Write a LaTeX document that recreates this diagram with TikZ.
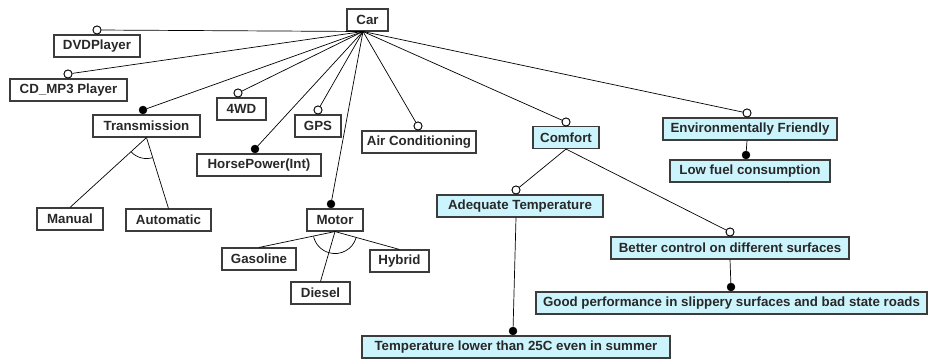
\documentclass[tikz,border=0pt]{standalone}
\usepackage{fontspec}
\setmainfont{Liberation Sans}
\definecolor{boxline}{RGB}{60,60,60}
\definecolor{labeltext}{RGB}{40,40,40}
\definecolor{goalfill}{RGB}{204,244,252}
\begin{document}
\begin{tikzpicture}[x=1pt,y=-1pt,
  feat/.style={draw=boxline, line width=1.1pt, fill=white, text=labeltext,
    font=\bfseries\fontsize{13.3}{15}\selectfont, inner sep=0pt, minimum height=22pt},
  goal/.style={feat, fill=goalfill},
  opt/.style={circle, draw=black, fill=white, line width=0.8pt, inner sep=0pt, minimum size=8pt},
  mand/.style={circle, draw=black, fill=black, inner sep=0pt, minimum size=8pt},
  link/.style={draw=black, line width=0.7pt},
]
\useasboundingbox (0,0) rectangle (928,361);

% ---------- features ----------
\node[feat, minimum width=41pt]  (car)    at (367.5,20)  {Car};
\node[feat, minimum width=86pt]  (dvd)    at (97,46)     {DVDPlayer};
\node[feat, minimum width=117pt] (cd)     at (68.5,90)   {CD\_MP3 Player};
\node[feat, minimum width=107pt] (trans)  at (146.5,126) {Transmission};
\node[feat, minimum width=49pt]  (wd)     at (241.5,109) {4WD};
\node[feat, minimum width=46pt]  (gps)    at (318,126)   {GPS};
\node[feat, minimum width=124pt] (hp)     at (259,165)   {HorsePower(Int)};
\node[feat, minimum width=114pt] (ac)     at (419,142)   {Air Conditioning};
\node[feat, minimum width=66pt]  (manual) at (70,219)    {Manual};
\node[feat, minimum width=85pt]  (auto)   at (168.5,220) {Automatic};
\node[feat, minimum width=56pt]  (motor)  at (335,220)   {Motor};
\node[feat, minimum width=74pt]  (gas)    at (259,259)   {Gasoline};
\node[feat, minimum width=59pt]  (hybrid) at (399.5,261) {Hybrid};
\node[feat, minimum width=59pt]  (diesel) at (320.5,293) {Diesel};

% ---------- goals ----------
\node[goal, minimum width=66pt]  (comfort) at (566,137.5) {Comfort};
\node[goal, minimum width=174pt] (env)     at (750,129)   {Environmentally Friendly};
\node[goal, minimum width=160pt] (low)     at (750,171)   {Low fuel consumption};
\node[goal, minimum width=166pt] (adeq)    at (520,206)   {Adequate Temperature};
\node[goal, minimum width=238pt] (better)  at (730,248)   {Better control on different surfaces};
\node[goal, minimum width=391pt] (good)    at (731.5,303) {Good performance in slippery surfaces and bad state roads};
\node[goal, minimum width=308pt] (temp)    at (516,347)   {Temperature lower than 25C even in summer};

% ---------- optional / mandatory markers ----------
\coordinate (carS) at (363,31.5);
\node[opt]  (dvdM)    at (97,30)   {};
\node[opt]  (cdM)     at (68,74)   {};
\node[mand] (transM)  at (143,110) {};
\node[opt]  (wdM)     at (238,93)  {};
\node[opt]  (gpsM)    at (318,110) {};
\node[mand] (hpM)     at (255,149) {};
\node[opt]  (acM)     at (418,126) {};
\node[mand] (motorM)  at (331,204) {};
\node[opt]  (comfortM) at (566,122) {};
\node[opt]  (envM)    at (747,113) {};
\node[mand] (lowM)    at (746,155) {};
\node[opt]  (adeqM)   at (516,190) {};
\node[opt]  (betterM) at (730,232) {};
\node[mand] (goodM)   at (731,287) {};
\node[mand] (tempM)   at (513,331) {};

% ---------- decomposition links from the root ----------
\foreach \m in {dvdM,cdM,transM,wdM,gpsM,hpM,acM,motorM,comfortM,envM}
  \draw[link] (carS) -- (\m);

% ---------- sub-decompositions ----------
\draw[link] (env.south -| envM) -- (lowM);
\draw[link] (comfort.south) -- (adeqM);
\draw[link] (comfort.south) -- (betterM);
\draw[link] (adeq.south -| adeqM) -- (tempM);
\draw[link] (better.south -| betterM) -- (goodM);

% ---------- alternative groups ----------
\draw[link] (trans.south) -- (manual.north);
\draw[link] (trans.south) -- (auto.north);
\draw[link] ([shift={(73:21)}]trans.south) arc[start angle=73, end angle=137, radius=21];

\draw[link] (motor.south) -- (gas.north);
\draw[link] (motor.south) -- (diesel.north);
\draw[link] (motor.south) -- (hybrid.north);
\draw[link] ([shift={(16:22)}]motor.south) arc[start angle=16, end angle=167, radius=22];

% markers drawn on top of the links
\foreach \m in {dvdM,cdM,wdM,gpsM,acM,comfortM,envM,adeqM,betterM}
  \node[opt] at (\m) {};
\end{tikzpicture}
\end{document}
